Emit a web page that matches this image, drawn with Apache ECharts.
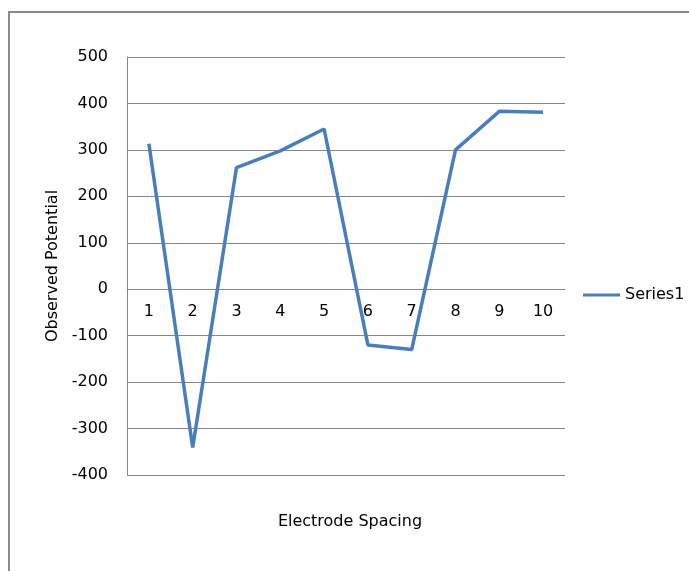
<!DOCTYPE html>
<html>
<head>
<meta charset="utf-8">
<script src="https://cdn.jsdelivr.net/npm/echarts@6/dist/echarts.min.js"></script>
<style>
html,body{margin:0;padding:0;background:#fff;}
#chart{width:689px;height:571px;}
</style>
</head>
<body>
<div id="chart"></div>
<script>
var categories = ['1','2','3','4','5','6','7','8','9','10'];
var series1 = [313, -341, 262, 298, 345, -120, -130, 300, 383, 381];
var seriesName = 'Series1';
var xAxisName = 'Electrode Spacing';
var yAxisName = 'Observed Potential';

var FONT = 'DejaVu Sans';
var chart = echarts.init(document.getElementById('chart'), null, {renderer:'canvas'});
chart.setOption({
  animation: false,
  backgroundColor: '#fff',
  graphic: [{
    type: 'rect',
    shape: {x: 9, y: 12, width: 900, height: 800},
    style: {fill: 'none', stroke: '#8a8a8a', lineWidth: 2},
    silent: true
  }],
  grid: {left: 127, right: 124, top: 57, bottom: 96, containLabel: false, outerBoundsMode: 'none'},
  legend: {
    data: [seriesName],
    left: 583, top: 287, padding: 0,
    icon: 'rect', itemWidth: 37, itemHeight: 3,
    textStyle: {fontFamily: FONT, fontSize: 16, color: '#000'}
  },
  xAxis: {
    type: 'category',
    data: categories,
    boundaryGap: true,
    position: 'bottom',
    offset: -186,
    axisLine: {onZero: false, lineStyle: {color: '#868686', width: 1}},
    axisTick: {show: false},
    axisLabel: {margin: 15, fontFamily: FONT, fontSize: 16, color: '#000'},
    name: xAxisName,
    nameLocation: 'middle',
    nameGap: 225,
    nameTextStyle: {fontFamily: FONT, fontSize: 16, color: '#000', padding: [0, 0, 0, 8]},
    splitLine: {show: false}
  },
  yAxis: {
    type: 'value',
    min: -400, max: 500, interval: 100,
    axisLine: {show: true, lineStyle: {color: '#868686', width: 1}},
    axisTick: {show: false},
    axisLabel: {margin: 19, fontFamily: FONT, fontSize: 16, color: '#000'},
    splitLine: {show: true, lineStyle: {color: '#868686', width: 1}},
    name: yAxisName,
    nameLocation: 'middle',
    nameGap: 51,
    nameRotate: 90,
    nameTextStyle: {fontFamily: FONT, fontSize: 16, color: '#000'}
  },
  series: [{
    name: seriesName,
    type: 'line',
    data: series1,
    symbol: 'none',
    lineStyle: {color: '#4A7EBB', width: 3.5},
    itemStyle: {color: '#4A7EBB'}
  }]
});
</script>
</body>
</html>
